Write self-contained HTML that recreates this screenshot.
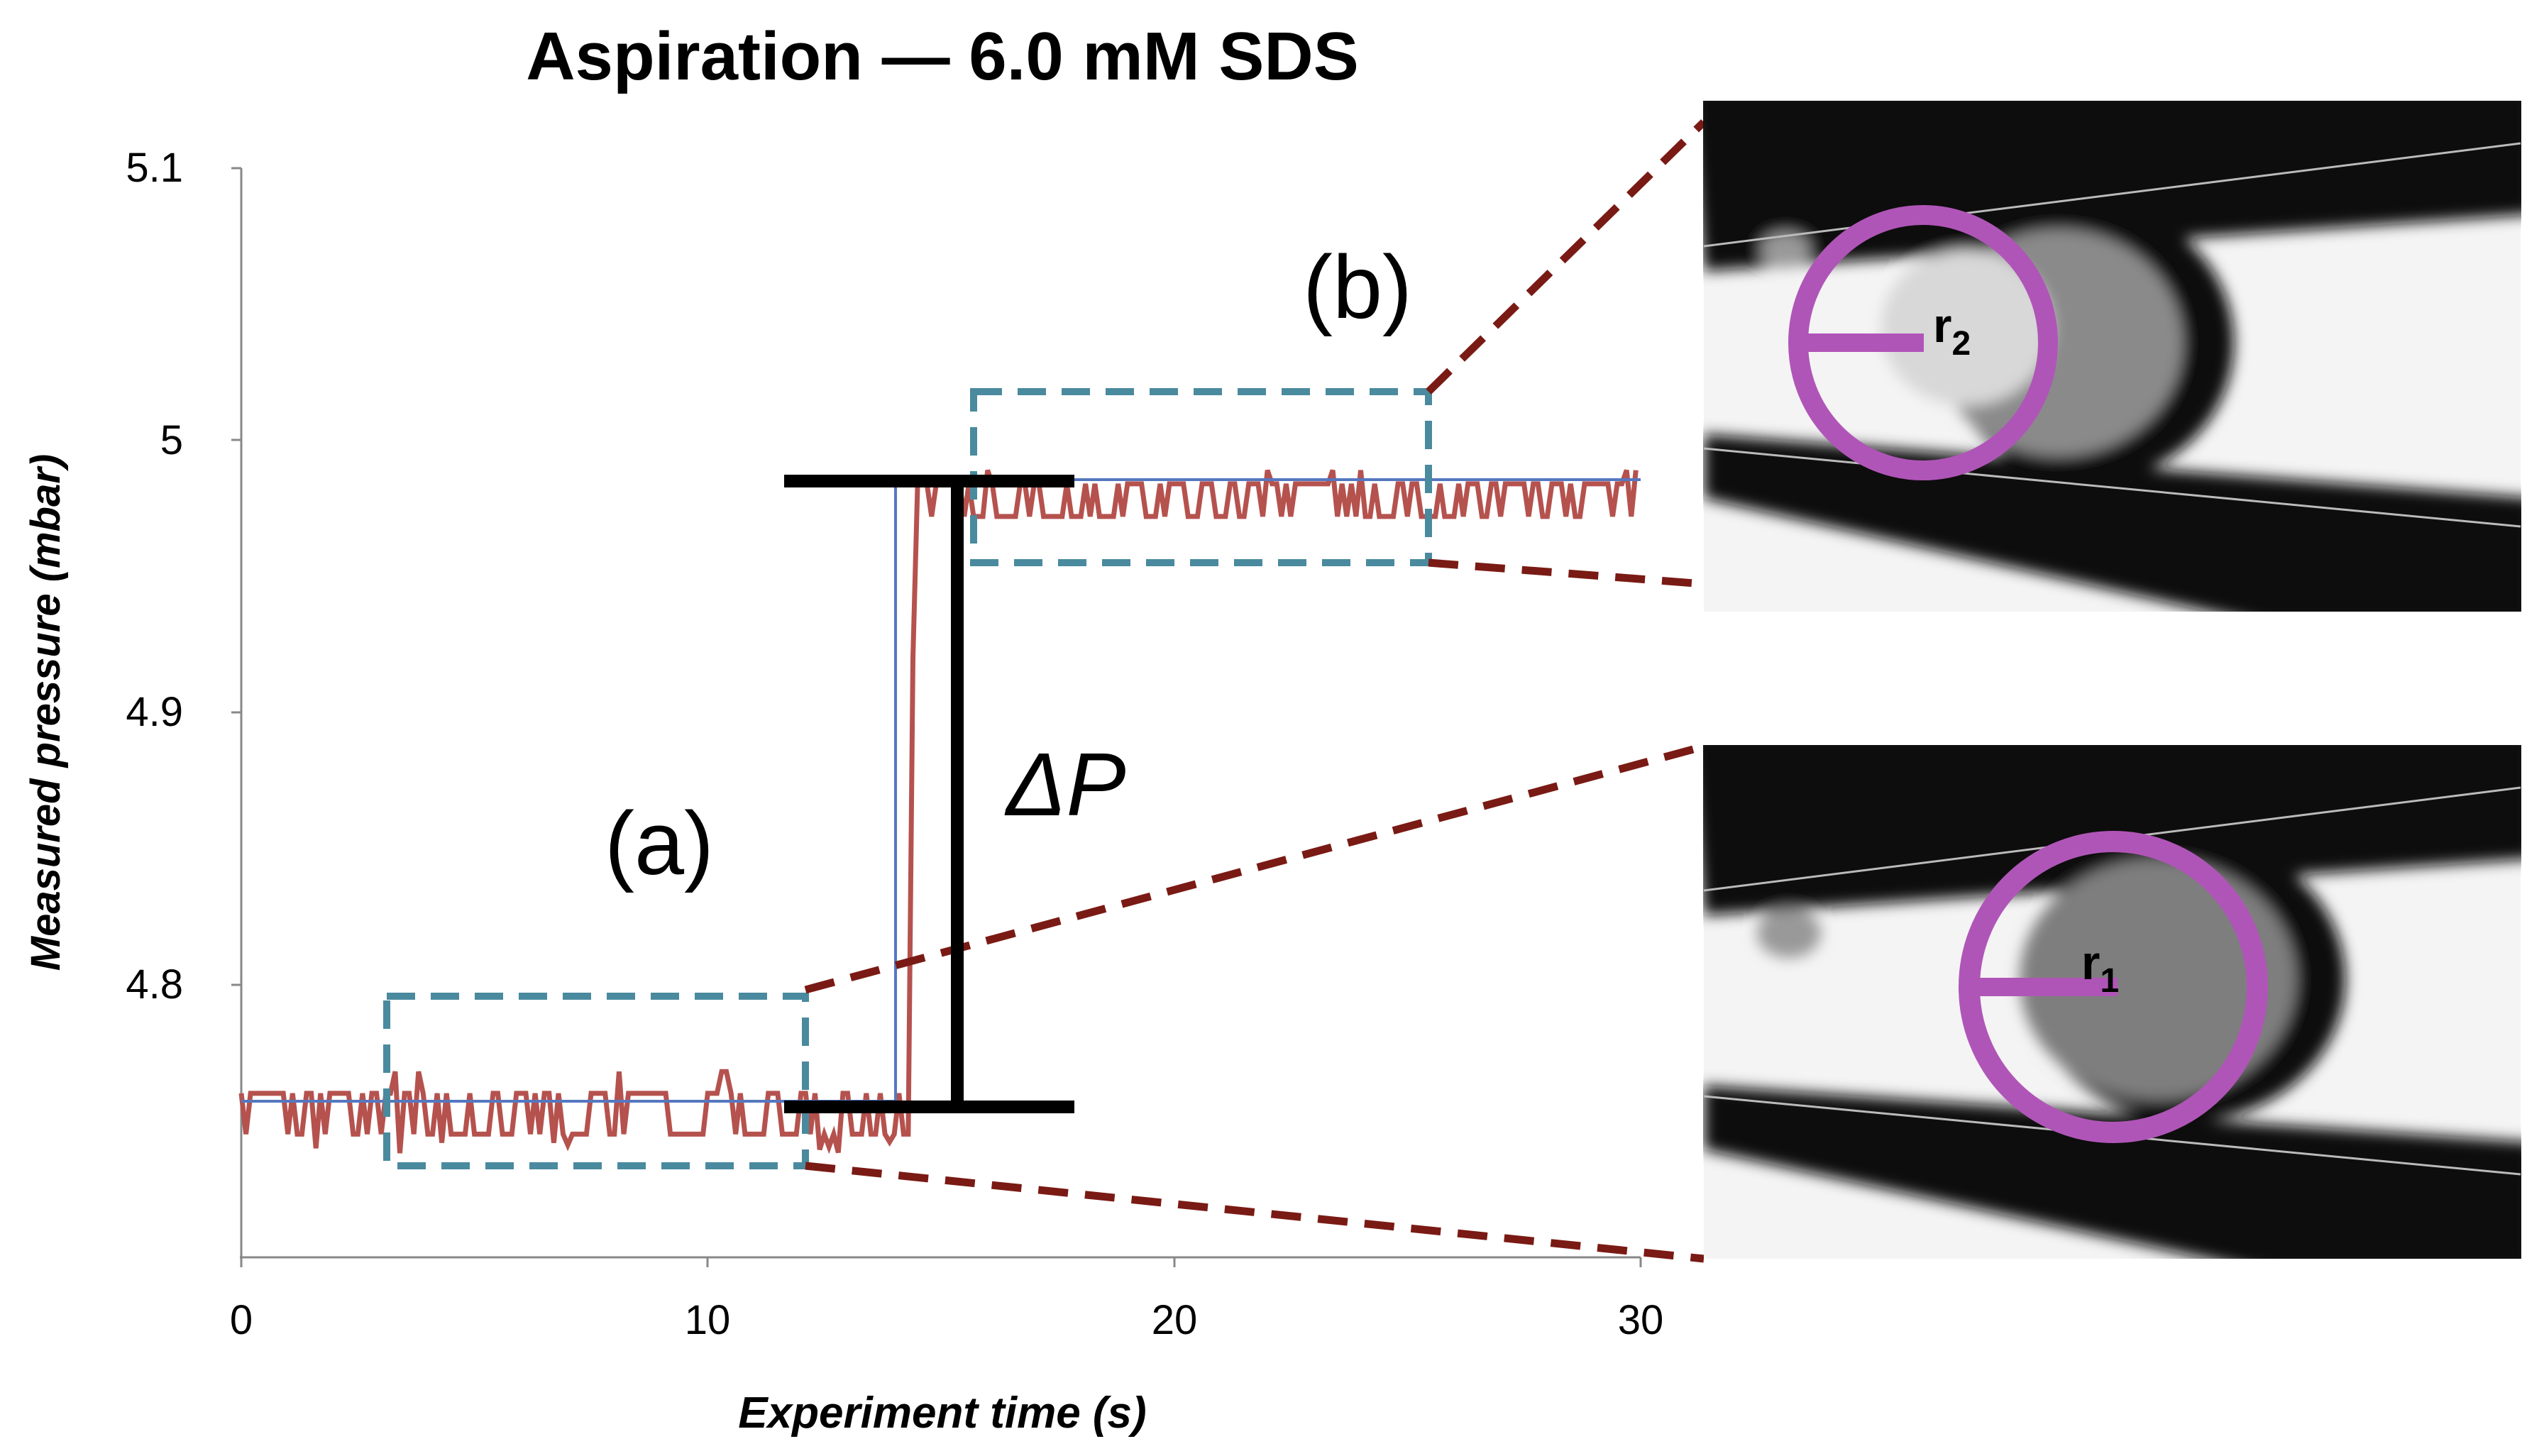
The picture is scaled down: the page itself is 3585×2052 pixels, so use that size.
<!DOCTYPE html>
<html><head><meta charset="utf-8"><style>
html,body{margin:0;padding:0;background:#fff;}
svg{display:block;}
text{font-family:"Liberation Sans",sans-serif;}
</style></head><body>
<svg id="s" width="3585" height="2052" viewBox="0 0 3585 2052" xmlns="http://www.w3.org/2000/svg">
<defs>
<filter id="bl"><feGaussianBlur stdDeviation="10"/></filter>
</defs>
<text x="1328" y="112" font-size="96" font-weight="bold" text-anchor="middle">Aspiration — 6.0 mM SDS</text>
<line x1="340" y1="237" x2="340" y2="1774" stroke="#888" stroke-width="3"/>
<line x1="338" y1="1772" x2="2312" y2="1772" stroke="#888" stroke-width="3"/>
<g stroke="#888" stroke-width="3">
<line x1="326" y1="237" x2="340" y2="237"/><line x1="326" y1="620" x2="340" y2="620"/><line x1="326" y1="1004" x2="340" y2="1004"/><line x1="326" y1="1388" x2="340" y2="1388"/>
<line x1="340" y1="1772" x2="340" y2="1786"/><line x1="997" y1="1772" x2="997" y2="1786"/><line x1="1655" y1="1772" x2="1655" y2="1786"/><line x1="2312" y1="1772" x2="2312" y2="1786"/>
</g>
<g font-size="58" text-anchor="end">
<text x="258" y="256">5.1</text><text x="258" y="640">5</text><text x="258" y="1023">4.9</text><text x="258" y="1407">4.8</text>
</g>
<g font-size="58" text-anchor="middle">
<text x="340" y="1880">0</text><text x="997" y="1880">10</text><text x="1655" y="1880">20</text><text x="2312" y="1880">30</text>
</g>
<text x="1328" y="2012" font-size="62" font-weight="bold" font-style="italic" text-anchor="middle">Experiment time (s)</text>
<text transform="translate(84,1004) rotate(-90)" font-size="58" font-weight="bold" font-style="italic" text-anchor="middle">Measured pressure (mbar)</text>
<path id="red" fill="none" stroke="#b5524e" stroke-width="7"/>
<polyline points="340,1552 1262,1552 1262,676 2312,676" fill="none" stroke="#5577c0" stroke-width="4"/>
<g fill="none" stroke="#4a8a9e" stroke-width="10" stroke-dasharray="40,22">
<rect x="545" y="1404" width="590" height="239"/>
<rect x="1372" y="552" width="641" height="241"/>
</g>
<g stroke="#7a1a14" stroke-width="11" stroke-dasharray="42,24">
<line x1="2013" y1="552" x2="2401" y2="172"/>
<line x1="2013" y1="793" x2="2401" y2="823"/>
<line x1="1135" y1="1395" x2="2401" y2="1052"/>
<line x1="1135" y1="1643" x2="2401" y2="1774"/>
</g>
<g stroke="#000" stroke-width="18">
<line x1="1349" y1="678" x2="1349" y2="1560"/>
<line x1="1105" y1="678" x2="1514" y2="678"/>
<line x1="1105" y1="1560" x2="1514" y2="1560"/>
</g>
<text x="1418" y="1149" font-size="126" font-style="italic">ΔP</text>
<text x="852" y="1232" font-size="126">(a)</text>
<text x="1836" y="448" font-size="126">(b)</text>
<g transform="translate(2400,142)">
<svg width="1153" height="720" viewBox="0 0 1151 720" overflow="hidden">
<rect width="1151" height="720" fill="#f4f4f4"/>
<g filter="url(#bl)">
<polygon points="-20,-20 1171,-20 1171,160 0,240" fill="#080808"/>
<polygon points="0,470 1171,560 1171,740 800,740 0,560" fill="#080808"/>
<ellipse cx="543" cy="341" rx="204" ry="195" fill="#111"/>
<ellipse cx="500" cy="341" rx="175" ry="160" fill="#8a8a8a"/>
<ellipse cx="370" cy="320" rx="120" ry="110" fill="#d8d8d8"/>
<ellipse cx="115" cy="210" rx="35" ry="25" fill="#999"/>
</g>
<line x1="0" y1="205" x2="1151" y2="60" stroke="#bbb" stroke-width="3"/>
<line x1="0" y1="490" x2="1151" y2="600" stroke="#bbb" stroke-width="3"/>
<ellipse cx="309" cy="341" rx="176" ry="180" fill="none" stroke="#b055b8" stroke-width="28"/>
<line x1="140" y1="341" x2="310" y2="341" stroke="#b055b8" stroke-width="26"/>
<text x="323" y="340" font-size="68" font-weight="bold">r<tspan font-size="48" dy="18">2</tspan></text>
</svg></g>
<g transform="translate(2400,1050)">
<svg width="1153" height="724" viewBox="0 0 1151 724" overflow="hidden">
<rect width="1151" height="724" fill="#f4f4f4"/>
<g filter="url(#bl)">
<polygon points="-20,-20 1171,-20 1171,160 0,240" fill="#080808"/>
<polygon points="0,480 1171,560 1171,744 800,744 0,570" fill="#080808"/>
<ellipse cx="681" cy="330" rx="223" ry="200" fill="#111"/>
<ellipse cx="640" cy="330" rx="195" ry="170" fill="#7e7e7e"/>
<ellipse cx="120" cy="265" rx="45" ry="35" fill="#999"/>
</g>
<line x1="0" y1="205" x2="1151" y2="60" stroke="#bbb" stroke-width="3"/>
<line x1="0" y1="495" x2="1151" y2="605" stroke="#bbb" stroke-width="3"/>
<ellipse cx="577" cy="341" rx="203" ry="205" fill="none" stroke="#b055b8" stroke-width="30"/>
<line x1="380" y1="341" x2="583" y2="341" stroke="#b055b8" stroke-width="26"/>
<text x="532" y="330" font-size="68" font-weight="bold">r<tspan font-size="48" dy="18">1</tspan></text>
</svg></g>
</svg>
<script>
(function(){
var seed=7;function r(){seed=(seed*16807)%2147483647;return seed/2147483647;}
function Y(p){return 237+(5.1-p)*3835;}
function X(t){return 340+t*65.73;}
var d="",t=0,first=true,state=0;
while(t<=30){
 var p;
 if(t<14.3){ if(r()<0.45)state=1-state; p=state?4.760:4.745; if(r()<0.08)p=4.738+r()*0.005; if(r()<0.03)p=4.768;}
 else if(t<14.45){p=4.8+(t-14.3)*1.2;}
 else { if(r()<0.45)state=1-state; p=state?4.984:4.972; if(r()<0.05)p=4.989;}
 d+=(first?"M":"L")+X(t).toFixed(1)+","+Y(p).toFixed(1);first=false;
 t+=0.1;
}
document.getElementById("red").setAttribute("d",d);
})();
</script>
</body></html>
